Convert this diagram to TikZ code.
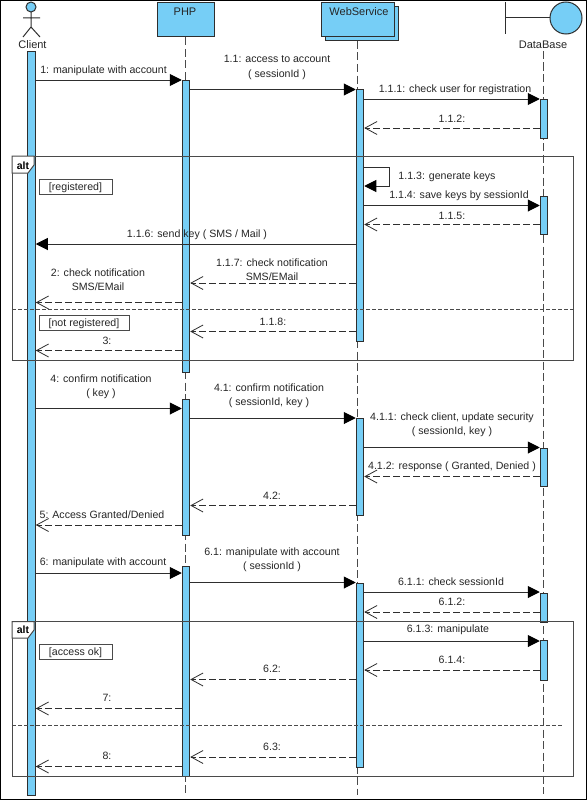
\documentclass[tikz,border=0pt]{standalone}
\usepackage{fontspec}
\setmainfont{Liberation Sans}
\usetikzlibrary{arrows.meta}
\definecolor{lifefill}{HTML}{76CEF6}
\definecolor{inkline}{HTML}{2E2E2E}
\definecolor{framegray}{HTML}{4A4A4A}
\definecolor{txt}{HTML}{262626}
\tikzset{
  x=1pt,y=-1pt,
  headbox/.style={draw=inkline,fill=lifefill,line width=1pt,inner sep=0pt,minimum width=#1,minimum height=34pt,anchor=north west},
  headname/.style={text=txt,font=\fontsize{11}{14}\selectfont,inner sep=0pt},
  lifeline/.style={draw=framegray,line width=1pt,dash pattern=on 8pt off 3.5pt},
  barbox/.style={draw=inkline,fill=lifefill,line width=1pt,inner sep=0pt,minimum width=7.5pt,anchor=north},
  syncmsg/.style={draw=inkline,line width=1pt,-{Triangle[length=12pt,width=12pt,color=black]},shorten >=0pt},
  retmsg/.style={draw=inkline,line width=1pt,dash pattern=on 6.5pt off 3.5pt,-{Straight Barb[length=12pt,width=13pt,line width=0.8pt]}},
  msglabel/.style={text=txt,font=\fontsize{10.6}{14.4}\selectfont,align=center,inner sep=0pt,yshift=-1.5pt},
  frameline/.style={draw=framegray,line width=1pt},
  framesep/.style={draw=framegray,line width=1pt,dash pattern=on 4pt off 2pt},
  tagbox/.style={draw=framegray,fill=white,line width=1pt},
  tagtext/.style={text=black,font=\fontsize{10.5}{12}\selectfont\bfseries,inner sep=0pt},
  guardbox/.style={draw=framegray,fill=white,line width=1pt,inner sep=0pt,anchor=north west,minimum height=15pt},
  guardtext/.style={text=txt,font=\fontsize{10.6}{12}\selectfont,inner sep=0pt},
}
\newcommand{\actbar}[4]{\pgfmathsetmacro{\barh}{#4-#3}\node[barbox,minimum height=\barh pt] (#1) at (#2,#3) {};}
\newcommand{\msgline}[5]{\coordinate (#1a) at (#3 |- 0,#5);\coordinate (#1b) at (#4 |- 0,#5);\draw[#2] (#1a) -- (#1b);}
\newcommand{\msgtext}[4]{\node[msglabel] (#1) at (#2,#3) {#4};}
\begin{document}
\begin{tikzpicture}
\useasboundingbox (0,0) rectangle (587,800);
\fill[white] (0,0) rectangle (587,800);
% heads
\draw[draw=inkline,fill=lifefill,line width=1pt] (31,7) circle (5);
\coordinate (neck) at (31,12);
\coordinate (hip) at (31,27);
\coordinate (armL) at (23,18);
\coordinate (armR) at (40,18);
\coordinate (legL) at (23,37);
\coordinate (legR) at (40,37);
\draw[inkline,line width=1pt] (neck) -- (hip) (armL) -- (armR) (legL) -- (hip) -- (legR);
\node[headname] (clientName) at (32.5,44.5) {Client};
\node[headbox=57pt] (phpHead) at (157,2.5) {};
\node[headname] (phpName) at (185,11.5) {PHP};
\node[headbox=73pt] (wsBack) at (325,6) {};
\node[headbox=73pt] (wsHead) at (321,2.5) {};
\node[headname] (wsName) at (359,11.5) {WebService};
\coordinate (dbTop) at (505,2);
\coordinate (dbBot) at (505,34);
\coordinate (dbMid) at (505,18);
\node[draw=inkline,fill=lifefill,line width=1pt,circle,minimum size=32pt,inner sep=0pt] (dbCircle) at (566,18) {};
\draw[inkline,line width=1pt] (dbTop) -- (dbBot) (dbMid) -- (dbCircle);
\node[headname] (dbName) at (543,44.5) {DataBase};
% lifelines
\coordinate (phpEnd) at (185,795);
\coordinate (wsEnd) at (357,795);
\coordinate (dbEnd) at (543,794);
\draw[lifeline] (phpHead.south -| 185,0) -- (phpEnd);
\draw[lifeline] (wsBack.south -| 357,0) -- (wsEnd);
\coordinate (dbStart) at (543,51);
\draw[lifeline] (dbStart) -- (dbEnd);
% bars
\actbar{barC}{31.5}{51}{795}
\actbar{barP1}{186}{80}{372}
\actbar{barP2}{186}{399}{535}
\actbar{barP3}{186}{565.5}{776}
\actbar{barW1}{360}{89}{341}
\actbar{barW2}{360}{418}{515}
\actbar{barW3}{360}{583}{767}
\actbar{barD1}{544}{99}{138}
\actbar{barD2}{544}{195.5}{234}
\actbar{barD3}{544}{447.5}{486}
\actbar{barD4}{544}{592.5}{622}
\actbar{barD5}{544}{640}{680}
% frames
\draw[frameline] (12,156) rectangle (573,360);
\draw[framesep] (12,309) -- (573,309);
\draw[frameline] (12,621.5) rectangle (573,776);
\draw[framesep] (12,725) -- (562,725);
\draw[tagbox] (12,156) -- (34,156) -- (34,165) -- (28,173) -- (12,173) -- cycle;
\node[tagtext] (altA) at (23,165.5) {alt};
\draw[tagbox] (12,621.5) -- (34,621.5) -- (34,630) -- (28,638) -- (12,638) -- cycle;
\node[tagtext] (altB) at (23,630) {alt};
\node[guardbox,minimum width=73pt] (gReg) at (39,179) {};
\node[guardtext] (gRegT) at (75.5,188) {[registered]};
\node[guardbox,minimum width=90pt] (gNot) at (39,314.5) {};
\node[guardtext] (gNotT) at (84,323.5) {[not registered]};
\node[guardbox,minimum width=73pt] (gOk) at (39,643.5) {};
\node[guardtext] (gOkT) at (75.5,652.5) {[access ok]};
% messages
\msgline{m1}{syncmsg}{barC.east}{barP1.west}{80}
\msgline{m11}{syncmsg}{barP1.east}{barW1.west}{89.5}
\msgline{m111}{syncmsg}{barW1.east}{barD1.west}{99}
\msgline{m112}{retmsg}{barD1.west}{barW1.east}{128}
\coordinate (selfA) at (barW1.east |- 0,167);
\coordinate (selfB) at (389.5,167);
\coordinate (selfC) at (389.5,186);
\coordinate (selfD) at (barW1.east |- 0,186);
\draw[syncmsg] (selfA) -- (selfB) -- (selfC) -- (selfD);
\msgline{m114}{syncmsg}{barW1.east}{barD2.west}{205.5}
\msgline{m115}{retmsg}{barD2.west}{barW1.east}{224.5}
\msgline{m116}{syncmsg}{barW1.west}{barC.east}{244}
\msgline{m117}{retmsg}{barW1.west}{barP1.east}{283}
\msgline{m2}{retmsg}{barP1.west}{barC.east}{302.5}
\msgline{m118}{retmsg}{barW1.west}{barP1.east}{331.5}
\msgline{m3}{retmsg}{barP1.west}{barC.east}{350.5}
\msgline{m4}{syncmsg}{barC.east}{barP2.west}{408.5}
\msgline{m41}{syncmsg}{barP2.east}{barW2.west}{418}
\msgline{m411}{syncmsg}{barW2.east}{barD3.west}{447.5}
\msgline{m412}{retmsg}{barD3.west}{barW2.east}{476.5}
\msgline{m42}{retmsg}{barW2.west}{barP2.east}{505.5}
\msgline{m5}{retmsg}{barP2.west}{barC.east}{525}
\msgline{m6}{syncmsg}{barC.east}{barP3.west}{573}
\msgline{m61}{syncmsg}{barP3.east}{barW3.west}{582.5}
\msgline{m611}{syncmsg}{barW3.east}{barD4.west}{592}
\msgline{m612}{retmsg}{barD4.west}{barW3.east}{612}
\msgline{m613}{syncmsg}{barW3.east}{barD5.west}{641}
\msgline{m614}{retmsg}{barD5.west}{barW3.east}{670}
\msgline{m62}{retmsg}{barW3.west}{barP3.east}{679.5}
\msgline{m7}{retmsg}{barP3.west}{barC.east}{708.5}
\msgline{m63}{retmsg}{barW3.west}{barP3.east}{757}
\msgline{m8}{retmsg}{barP3.west}{barC.east}{766.5}
% labels
\msgtext{t1}{103.5}{69}{1: manipulate with account}
\msgtext{t11}{277}{66}{1.1: access to account\\( sessionId )}
\msgtext{t111}{455}{88}{1.1.1: check user for registration}
\msgtext{t112}{452}{117}{1.1.2:}
\msgtext{t113}{447}{175}{1.1.3: generate keys}
\msgtext{t114}{459}{194.5}{1.1.4: save keys by sessionId}
\msgtext{t115}{452}{214}{1.1.5:}
\msgtext{t116}{197}{233}{1.1.6: send key ( SMS / Mail )}
\msgtext{t117}{272}{268}{1.1.7: check notification\\SMS/EMail}
\msgtext{t2}{98}{278}{2: check notification\\SMS/EMail}
\msgtext{t118}{273}{320}{1.1.8:}
\msgtext{t3}{107}{339.5}{3:}
\msgtext{t4}{101}{385}{4: confirm notification\\( key )}
\msgtext{t41}{269}{394.5}{4.1: confirm notification\\( sessionId, key )}
\msgtext{t411}{452}{423.5}{4.1.1: check client, update security\\( sessionId, key )}
\msgtext{t412}{452}{465}{4.1.2: response ( Granted, Denied )}
\msgtext{t42}{272}{494}{4.2:}
\msgtext{t5}{102}{513}{5: Access Granted/Denied}
\msgtext{t6}{103}{561.5}{6: manipulate with account}
\msgtext{t61}{272}{558.5}{6.1: manipulate with account\\( sessionId )}
\msgtext{t611}{451}{580.5}{6.1.1: check sessionId}
\msgtext{t612}{452}{600}{6.1.2:}
\msgtext{t613}{448}{628.5}{6.1.3: manipulate}
\msgtext{t614}{452}{658}{6.1.4:}
\msgtext{t62}{272}{667.5}{6.2:}
\msgtext{t7}{107}{696.5}{7:}
\msgtext{t63}{272}{745.5}{6.3:}
\msgtext{t8}{107}{754.5}{8:}
% outer border
\draw[black,line width=1.2pt] (0.6,0.6) rectangle (586.4,799.4);
\end{tikzpicture}
\end{document}
